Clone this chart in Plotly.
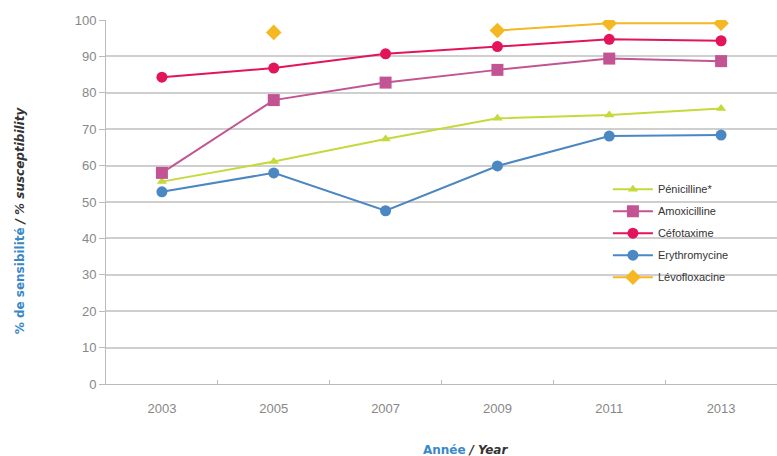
import plotly.graph_objects as go

years = ["2003", "2005", "2007", "2009", "2011", "2013"]
penicilline = [55.6, 61.1, 67.3, 73.0, 73.9, 75.7]
amoxicilline = [58.0, 78.0, 82.8, 86.3, 89.4, 88.7]
cefotaxime = [84.3, 86.8, 90.7, 92.7, 94.7, 94.3]
erythromycine = [52.8, 58.0, 47.6, 59.9, 68.1, 68.4]
levofloxacine = [None, 96.6, None, 97.1, 99.1, 99.1]

series = [
    ("Pénicilline*", penicilline, "#c5d93a", "triangle-up", 9),
    ("Amoxicilline", amoxicilline, "#c25494", "square", 12),
    ("Céfotaxime", cefotaxime, "#e2145c", "circle", 11),
    ("Erythromycine", erythromycine, "#4b87c2", "circle", 11),
    ("Lévofloxacine", levofloxacine, "#f6b822", "diamond", 12),
]

fig = go.Figure()
for name, vals, color, sym, size in series:
    fig.add_trace(go.Scatter(
        x=years, y=vals, name=name, mode="lines+markers",
        legendgroup=name,
        line=dict(color=color, width=2),
        marker=dict(symbol=sym, size=size, color=color),
        connectgaps=False,
    ))

fig.update_layout(
    width=777, height=456,
    margin=dict(l=106, r=0, t=20, b=72),
    paper_bgcolor="white", plot_bgcolor="white",
    font=dict(family="Liberation Sans, Arial, sans-serif", color="#333"),
    showlegend=True,
    legend=dict(
        x=0.748, y=0.575, xanchor="left", yanchor="top",
        bgcolor="rgba(0,0,0,0)", font=dict(size=11, color="#333"),
        tracegroupgap=3, itemwidth=40,
    ),
    xaxis=dict(
        type="category", tickson="boundaries", showgrid=False,
        showline=True, linecolor="#bbb", linewidth=1,
        ticks="inside", ticklen=4, tickcolor="#bbb",
        tickfont=dict(size=13, color="#888"), ticklabelstandoff=12,
        range=[-0.5, 5.5],
    ),
    yaxis=dict(
        range=[0, 100], dtick=10, showgrid=True, gridcolor="#cfcfcf", gridwidth=1.5,
        showline=True, linecolor="#bbb", linewidth=1,
        ticks="outside", ticklen=6, tickcolor="#bbb",
        tickfont=dict(size=13, color="#888"), zeroline=False,
    ),
    annotations=[
        dict(
            text="<span style='color:#3a88c8'><b>% de sensibilité</b></span> <b><i>/ % susceptibility</i></b>",
            xref="paper", yref="paper", x=-0.128, y=0.45,
            textangle=-90, showarrow=False,
            font=dict(size=12, color="#333", family="DejaVu Sans, sans-serif"),
            xanchor="center", yanchor="middle",
        ),
        dict(
            text="<span style='color:#3a88c8'><b>Année</b></span> <b><i>/ Year</i></b>",
            xref="paper", yref="paper", x=0.536, y=-0.181,
            showarrow=False,
            font=dict(size=12, color="#333", family="DejaVu Sans, sans-serif"),
            xanchor="center", yanchor="middle",
        ),
    ],
)

fig.write_html("out.html")
